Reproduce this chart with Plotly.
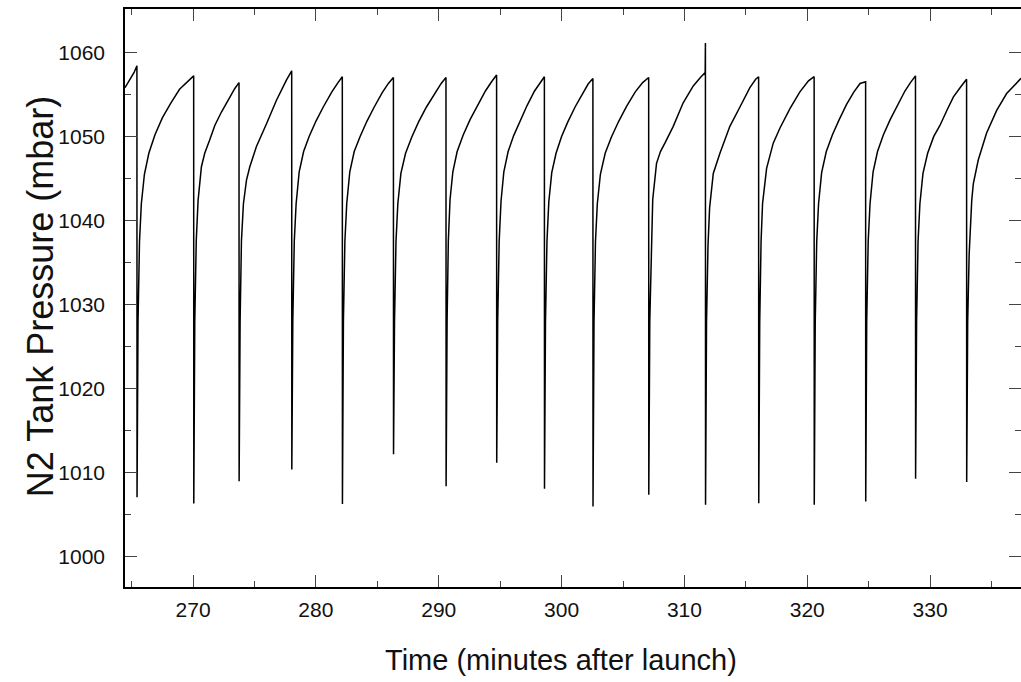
import plotly.graph_objects as go

# Time (minutes after launch) and N2 tank pressure (mbar), cycle by cycle
time_min = [
    264.46, 264.9, 265.2, 265.43,
    265.44, 265.52, 265.64, 265.79, 266.04, 266.4, 266.9, 267.5, 268.2, 268.9, 269.5, 270.05,
    270.06, 270.14, 270.26, 270.41, 270.68, 270.95, 271.36, 271.77, 272.31, 272.99, 273.4, 273.74,
    273.75, 273.83, 273.94, 274.1, 274.35, 274.62, 275.16, 275.98, 276.79, 277.6, 278.03,
    278.04, 278.12, 278.24, 278.39, 278.64, 279.0, 279.45, 280.0, 280.6, 281.3, 281.8, 282.15,
    282.16, 282.24, 282.36, 282.51, 282.76, 283.12, 283.6, 284.15, 284.75, 285.4, 285.9, 286.31,
    286.32, 286.40, 286.52, 286.67, 286.92, 287.3, 287.8, 288.35, 289.0, 289.65, 290.2, 290.59,
    290.60, 290.68, 290.78, 290.92, 291.15, 291.5, 292.0, 292.55, 293.15, 293.8, 294.3, 294.71,
    294.72, 294.80, 294.92, 295.07, 295.3, 295.65, 296.1, 296.6, 297.2, 297.8, 298.25, 298.60,
    298.61, 298.69, 298.81, 298.96, 299.2, 299.55, 300.0, 300.5, 301.1, 301.7, 302.15, 302.55,
    302.56, 302.64, 302.76, 302.91, 303.16, 303.55, 304.05, 304.65, 305.3, 306.0, 306.6, 307.09,
    307.10, 307.18, 307.30, 307.42, 307.73, 308.05, 308.41, 309.09, 309.9, 310.72, 311.3, 311.69, 311.71,
    311.72, 311.80, 311.92, 312.05, 312.35, 312.89, 313.7, 314.52, 315.33, 315.8, 316.04,
    316.05, 316.13, 316.24, 316.36, 316.69, 317.23, 317.78, 318.59, 319.4, 320.1, 320.56,
    320.57, 320.65, 320.77, 320.92, 321.17, 321.55, 322.05, 322.6, 323.2, 323.8, 324.3, 324.75,
    324.76, 324.84, 324.96, 325.11, 325.36, 325.72, 326.2, 326.75, 327.35, 327.95, 328.4, 328.81,
    328.82, 328.90, 329.02, 329.17, 329.42, 329.8, 330.3, 330.8, 331.4, 331.9, 332.5, 332.97,
    332.98, 333.06, 333.18, 333.25, 333.39, 333.52, 333.92, 334.6, 335.42, 336.23, 337.4,
]
pressure_mbar = [
    1055.8, 1056.9, 1057.6, 1058.4,
    1007.1, 1028, 1037.5, 1042, 1045.5, 1048, 1050.2, 1052.2, 1054, 1055.6, 1056.5, 1057.2,
    1006.35, 1028, 1037.6, 1042.4, 1046.4, 1048.0, 1049.6, 1051.3, 1052.9, 1054.7, 1055.7, 1056.4,
    1009.0, 1028, 1037.6, 1042, 1044.8, 1046.4, 1048.8, 1051.5, 1054.3, 1056.7, 1057.8,
    1010.4, 1028, 1037.5, 1042, 1045.8, 1048.2, 1050, 1051.8, 1053.5, 1055.3, 1056.4, 1057.1,
    1006.3, 1028, 1037.5, 1042, 1045.8, 1048.2, 1050, 1051.8, 1053.5, 1055.2, 1056.3, 1057.0,
    1012.2, 1028, 1037.5, 1042, 1045.6, 1048, 1049.9, 1051.7, 1053.5, 1055.1, 1056.3, 1057.0,
    1008.4, 1028, 1037.5, 1042.5, 1045.8, 1048.2, 1050.2, 1052, 1053.7, 1055.4, 1056.5, 1057.3,
    1011.2, 1028, 1037.5, 1042.3, 1045.8, 1048.2, 1050.1, 1051.8, 1053.7, 1055.4, 1056.4, 1057.1,
    1008.1, 1028, 1037.5, 1042.2, 1045.7, 1048, 1050, 1051.7, 1053.5, 1055.1, 1056.2, 1056.9,
    1006.0, 1028, 1037.5, 1042, 1045.5, 1048, 1049.9, 1051.8, 1053.6, 1055.3, 1056.4, 1057.0,
    1007.4, 1028, 1037.5, 1042.5, 1046.8, 1048.2, 1049.2, 1051.2, 1054.0, 1056.0, 1057.0, 1057.6, 1061.1,
    1006.2, 1028, 1037, 1041.5, 1045.6, 1048.0, 1051.2, 1053.5, 1055.8, 1056.8, 1057.1,
    1006.4, 1028, 1037.5, 1042, 1046.2, 1049.2, 1051, 1053.3, 1055.3, 1056.6, 1057.1,
    1006.2, 1028, 1037.5, 1042, 1045.7, 1048.2, 1050.2, 1052, 1053.8, 1055.3, 1056.3, 1056.5,
    1006.6, 1028, 1037.5, 1042, 1045.8, 1048.2, 1050.2, 1052, 1053.8, 1055.4, 1056.4, 1057.2,
    1009.3, 1028, 1037.5, 1042, 1045.6, 1048, 1050, 1051.3, 1053.2, 1054.7, 1055.9, 1056.8,
    1008.9, 1028, 1036, 1038.4, 1042.4, 1044.4, 1047.2, 1050.4, 1053.1, 1055.1, 1056.9,
]

x_title = "Time (minutes after launch)"
y_title = "N2 Tank Pressure (mbar)"

FONT = "Liberation Sans, Arial, sans-serif"

fig = go.Figure()
fig.add_trace(go.Scatter(
    x=time_min, y=pressure_mbar, mode="lines",
    line=dict(color="black", width=1.5),
    showlegend=False, hoverinfo="skip",
))

axis_common = dict(
    showline=True, linecolor="black", linewidth=1.5, mirror="ticks",
    ticks="inside", ticklen=12, tickwidth=1, tickcolor="#444",
    showgrid=False, zeroline=False, automargin=False,
    tickfont=dict(family=FONT, size=21, color="#111"),
)

fig.update_xaxes(
    range=[264.46, 337.4], tickmode="array", tickvals=[270, 280, 290, 300, 310, 320, 330],
    minor=dict(tickvals=[265, 275, 285, 295, 305, 315, 325, 335], ticks="inside", ticklen=6,
               tickcolor="#444", showgrid=False),
    ticklabelstandoff=3,
    **axis_common,
)
fig.update_yaxes(
    range=[996.43, 1065.15], tickmode="array", tickvals=[1000, 1010, 1020, 1030, 1040, 1050, 1060],
    minor=dict(tickvals=[1005, 1015, 1025, 1035, 1045, 1055], ticks="inside", ticklen=6,
               tickcolor="#444", showgrid=False),
    ticklabelstandoff=14,
    **axis_common,
)

fig.update_layout(
    width=1021, height=682,
    margin=dict(l=125, r=0, t=9, b=95),
    paper_bgcolor="white", plot_bgcolor="white",
    font=dict(family=FONT, color="#111"),
    annotations=[
        dict(text=x_title, xref="paper", yref="paper", x=0.487, y=-0.126,
             xanchor="center", yanchor="middle", showarrow=False,
             font=dict(size=29, family=FONT, color="#111")),
        dict(text=y_title, xref="paper", yref="paper", x=-0.095, y=0.503,
             xanchor="center", yanchor="middle", showarrow=False, textangle=-90,
             font=dict(size=36, family=FONT, color="#111")),
    ],
)

# remove the default page margin so the figure fills the window exactly
fig.write_html(
    "out.html",
    config={"displayModeBar": False},
    post_script="document.body.style.margin='0px';document.body.style.overflow='hidden';",
)
